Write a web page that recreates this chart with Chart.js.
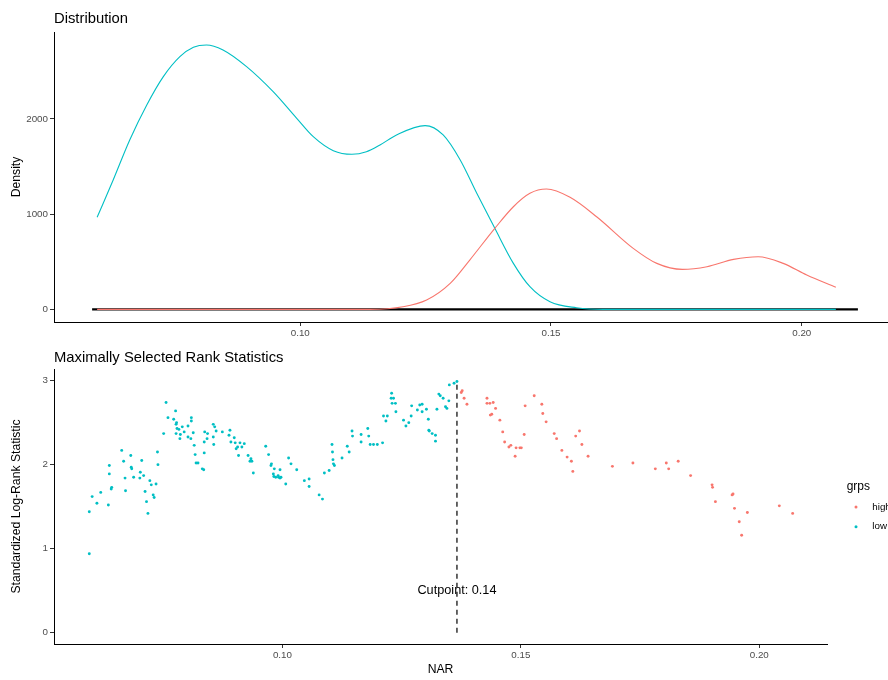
<!DOCTYPE html>
<html><head><meta charset="utf-8">
<script src="https://cdn.jsdelivr.net/npm/chart.js@4"></script>
<style>
html,body{margin:0;padding:0;background:#fff;}
#wrap{position:relative;width:888px;height:680px;}
canvas{position:absolute;left:0;}
</style></head><body>
<div id="wrap">
<canvas id="top" width="888" height="340" style="top:0"></canvas>
<canvas id="bot" width="888" height="340" style="top:340px"></canvas>
</div>
<script>
// ---------- DATA ----------
const xTicks = [0.10, 0.15, 0.20];
const densTicks = [0, 1000, 2000];
const statTicks = [0, 1, 2, 3];

// density curves
const densLowX = [0.0595,0.0627,0.0660,0.0694,0.0727,0.0760,0.0787,0.0813,0.0846,0.0893,0.0946,0.0993,0.1026,0.1066,0.1103,0.1132,0.1159,0.1192,0.1249,0.1285,0.1319,0.1352,0.1388,0.1425,0.1458,0.1498,0.1551,0.1604,0.1697,0.2068];
const densLowY = [967,1359,1779,2147,2445,2655,2754,2778,2725,2550,2287,2007,1814,1667,1629,1656,1727,1832,1930,1832,1569,1219,851,483,238,80,17,0,0,0];
const densHighX = [0.0595,0.1000,0.1139,0.1205,0.1252,0.1299,0.1338,0.1388,0.1425,0.1458,0.1491,0.1538,0.1591,0.1664,0.1711,0.1762,0.1811,0.1864,0.1913,0.1963,0.2010,0.2068];
const densHighY = [0,0,0,27,98,273,518,851,1078,1219,1264,1177,973,641,483,420,448,525,553,483,360,231];
const rugX = [0.0585, 0.2112];
const rugY = [0, 0];

// maximally selected rank statistics
const lowNAR = [0.0756,0.0776,0.0760,0.0772,0.0778,0.0777,0.0790,0.0802,0.0809,0.0809,0.0779,0.0783,0.0794,0.0777,0.0786,0.0751,0.0813,0.0837,0.0843,0.0802,0.0808,0.0785,0.0842,0.0836,0.0815,0.0817,0.0836,0.0819,0.0823,0.0832,0.0835,0.0663,0.0682,0.0738,0.0667,0.0705,0.0739,0.0637,0.0683,0.0684,0.0702,0.0709,0.0637,0.0670,0.0688,0.0701,0.0722,0.0735,0.0725,0.0642,0.0641,0.0671,0.0712,0.0619,0.0729,0.0731,0.0601,0.0715,0.0611,0.0635,0.0595,0.0718,0.0595,0.0855,0.0858,0.0861,0.0855,0.0856,0.0874,0.0890,0.0888,0.0899,0.0892,0.0901,0.0911,0.0920,0.0906,0.0915,0.0903,0.0908,0.0928,0.0934,0.0932,0.0936,0.0939,0.0965,0.0971,0.0977,0.0976,0.0983,0.0995,0.0981,0.0982,0.0991,0.0986,0.0992,0.0997,0.0995,0.1007,0.1013,0.1018,0.1030,0.1046,0.1056,0.1056,0.1077,0.1084,0.1088,0.1098,0.1104,0.1105,0.1106,0.1107,0.1109,0.1125,0.1136,0.1140,0.1146,0.1147,0.1165,0.1165,0.1179,0.1181,0.1184,0.1191,0.1199,0.1210,0.1212,0.1220,0.1217,0.1229,0.1228,0.1233,0.1230,0.1237,0.1238,0.1254,0.1259,0.1265,0.1270,0.1271,0.1283,0.1288,0.1293,0.1293,0.1302,0.1306,0.1307,0.1308,0.1314,0.1321,0.1321,0.1324,0.1328,0.1331,0.1337,0.1342,0.1345,0.1349,0.1350,0.1360,0.1366];
const lowStat = [2.74,2.64,2.56,2.54,2.50,2.48,2.45,2.46,2.56,2.52,2.43,2.42,2.39,2.37,2.36,2.37,2.38,2.39,2.37,2.33,2.31,2.31,2.31,2.27,2.23,2.12,2.14,2.02,2.02,1.95,1.94,2.17,2.11,2.15,2.04,2.05,2.00,1.99,1.97,1.95,1.91,1.87,1.89,1.84,1.85,1.84,1.81,1.77,1.76,1.73,1.71,1.69,1.68,1.67,1.64,1.61,1.62,1.56,1.54,1.52,1.44,1.42,0.94,2.48,2.45,2.40,2.33,2.24,2.39,2.41,2.35,2.32,2.27,2.26,2.26,2.25,2.21,2.21,2.19,2.11,2.11,2.07,2.04,2.04,1.90,2.22,2.12,2.01,1.99,1.95,1.94,1.89,1.86,1.87,1.85,1.85,1.85,1.84,1.77,2.08,2.01,1.94,1.81,1.83,1.74,1.64,1.59,1.90,1.93,2.24,2.15,2.06,2.01,1.99,2.08,2.22,2.15,2.40,2.34,2.36,2.27,2.43,2.34,2.24,2.24,2.24,2.26,2.58,2.58,2.52,2.85,2.79,2.79,2.73,2.73,2.63,2.53,2.46,2.50,2.58,2.70,2.65,2.71,2.72,2.63,2.66,2.54,2.41,2.40,2.37,2.35,2.28,2.66,2.84,2.82,2.79,2.69,2.67,2.76,2.95,2.97,2.99];
const highNAR = [0.1377,0.1375,0.1381,0.1387,0.1429,0.1429,0.1435,0.1442,0.1447,0.1439,0.1436,0.1456,0.1462,0.1466,0.1475,0.1479,0.1490,0.1498,0.1501,0.1488,0.1507,0.1509,0.1528,0.1544,0.1546,0.1553,0.1570,0.1575,0.1586,0.1597,0.1606,0.1609,0.1615,0.1623,0.1628,0.1641,0.1692,0.1735,0.1782,0.1805,0.1810,0.1830,0.1856,0.1901,0.1902,0.1908,0.1943,0.1945,0.1948,0.1958,0.1963,0.1975,0.2042,0.2070];
const highStat = [2.88,2.86,2.79,2.72,2.79,2.73,2.73,2.74,2.67,2.60,2.59,2.53,2.39,2.27,2.21,2.23,2.20,2.20,2.20,2.10,2.36,2.70,2.82,2.72,2.61,2.51,2.37,2.31,2.17,2.09,2.04,1.92,2.34,2.40,2.24,2.10,1.98,2.02,1.95,2.02,1.95,2.04,1.87,1.76,1.73,1.56,1.64,1.65,1.48,1.32,1.16,1.43,1.51,1.42];
const cutpoint = 0.1366;
const cutpointTop = 2.985;
const cutLabel = "Cutpoint: 0.14";
const cutLabelY = 0.5;
const groups = ["high", "low"];

// ---------- STYLE ----------
const RED = '#F8766D', CYAN = '#00BFC4';
const FONT = '"Liberation Sans", Arial, Helvetica, sans-serif';
Chart.defaults.font.family = FONT;
Chart.defaults.animation = false;

const zip = (xs, ys) => xs.map((x, i) => ({x, y: ys[i]}));

function axisCommon() {
  return {
    grid: {display: true, drawOnChartArea: false, drawTicks: true, tickLength: 4, color: '#333333', lineWidth: 1},
    border: {display: true, color: '#000000', width: 1},
  };
}
function xScale(min, max, h) {
  return Object.assign(axisCommon(), {
    type: 'linear', min, max,
    afterBuildTicks: s => { s.ticks = xTicks.map(v => ({value: v})); },
    afterFit: s => { s.height = h; },
    ticks: {color: '#4D4D4D', font: {size: 9.8}, padding: 1, maxRotation: 0, autoSkip: false,
            callback: v => Number(v).toFixed(2)}
  });
}
function yScale(min, max, ticks, w) {
  return Object.assign(axisCommon(), {
    type: 'linear', min, max,
    afterBuildTicks: s => { s.ticks = ticks.map(v => ({value: v})); },
    afterFit: s => { s.width = w; },
    ticks: {color: '#4D4D4D', font: {size: 9.8}, padding: 2, autoSkip: false, callback: v => String(v)}
  });
}
function rotText(ctx, text, x, y, size) {
  ctx.save();
  ctx.translate(x, y);
  ctx.rotate(-Math.PI / 2);
  ctx.font = size + 'px ' + FONT;
  ctx.fillStyle = '#000';
  ctx.textAlign = 'center';
  ctx.textBaseline = 'alphabetic';
  ctx.fillText(text, 0, 0);
  ctx.restore();
}

// ---------- TOP: Distribution ----------
new Chart(document.getElementById('top'), {
  type: 'line',
  data: {
    datasets: [
      {data: zip(densHighX, densHighY), borderColor: RED, borderWidth: 1.1, pointRadius: 0, cubicInterpolationMode: 'monotone', fill: false},
      {data: zip(densLowX, densLowY), borderColor: CYAN, borderWidth: 1.1, pointRadius: 0, cubicInterpolationMode: 'monotone', fill: false},
      {data: zip(rugX, rugY), borderColor: '#000000', borderWidth: 2.2, pointRadius: 0, fill: false}
    ]
  },
  options: {
    responsive: false, animation: false,
    layout: {padding: {top: 32, right: 1, left: 0, bottom: 0}},
    plugins: {legend: {display: false}, tooltip: {enabled: false}, title: {display: false}},
    scales: {
      x: xScale(0.0509, 0.2170, 18),
      y: yScale(-133, 2914, densTicks, 54)
    }
  },
  plugins: [{
    id: 'topText',
    afterDraw(chart) {
      const ctx = chart.ctx;
      ctx.save();
      ctx.font = '14.8px ' + FONT;
      ctx.fillStyle = '#000';
      ctx.textAlign = 'left';
      ctx.textBaseline = 'alphabetic';
      ctx.fillText('Distribution', 54, 22.7);
      ctx.restore();
      rotText(ctx, 'Density', 20.4, (chart.chartArea.top + chart.chartArea.bottom) / 2, 12.2);
    }
  }]
});

// ---------- BOTTOM: Maximally Selected Rank Statistics ----------
new Chart(document.getElementById('bot'), {
  type: 'scatter',
  data: {
    datasets: [
      {label: groups[0], data: zip(highNAR, highStat), backgroundColor: RED, borderWidth: 0, pointRadius: 1.45},
      {label: groups[1], data: zip(lowNAR, lowStat), backgroundColor: CYAN, borderWidth: 0, pointRadius: 1.45},
      {data: [{x: cutpoint, y: 0}, {x: cutpoint, y: cutpointTop}], showLine: true, borderColor: '#000', borderWidth: 1.2,
       borderDash: [5, 4], pointRadius: 0, fill: false}
    ]
  },
  options: {
    responsive: false, animation: false,
    layout: {padding: {top: 29, right: 61, left: 0, bottom: 0}},
    plugins: {legend: {display: false}, tooltip: {enabled: false}, title: {display: false}},
    scales: {
      x: xScale(0.0521, 0.2142, 36),
      y: yScale(-0.135, 3.139, statTicks, 54)
    }
  },
  plugins: [{
    id: 'botText',
    afterDraw(chart) {
      const ctx = chart.ctx, ca = chart.chartArea;
      const sx = chart.scales.x, sy = chart.scales.y;
      ctx.save();
      ctx.fillStyle = '#000';
      ctx.font = '14.8px ' + FONT;
      ctx.textAlign = 'left';
      ctx.textBaseline = 'alphabetic';
      ctx.fillText('Maximally Selected Rank Statistics', 54, 21.7);
      // cutpoint label
      ctx.font = '12.7px ' + FONT;
      ctx.textAlign = 'center';
      ctx.textBaseline = 'middle';
      ctx.fillText(cutLabel, sx.getPixelForValue(cutpoint), sy.getPixelForValue(cutLabelY));
      // x title
      ctx.font = '12.2px ' + FONT;
      ctx.textBaseline = 'alphabetic';
      ctx.fillText('NAR', (ca.left + ca.right) / 2, 332.7);
      // legend
      ctx.textAlign = 'left';
      ctx.textBaseline = 'middle';
      ctx.font = '12px ' + FONT;
      ctx.fillText('grps', 846.7, 146.5);
      ctx.font = '9.8px ' + FONT;
      const cols = [RED, CYAN];
      const ys = [167, 186.7];
      groups.forEach((g, i) => {
        ctx.fillStyle = cols[i];
        ctx.beginPath();
        ctx.arc(856, ys[i], 1.5, 0, Math.PI * 2);
        ctx.fill();
        ctx.fillStyle = '#000';
        ctx.fillText(g, 872.3, ys[i]);
      });
      ctx.restore();
      rotText(ctx, 'Standardized Log-Rank Statistic', 20.4, (ca.top + ca.bottom) / 2, 12.2);
    }
  }]
});
</script>
</body></html>
